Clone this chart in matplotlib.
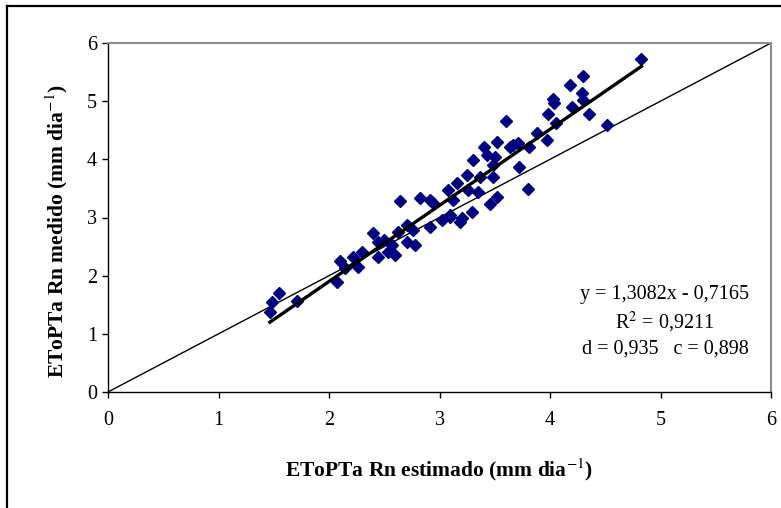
import matplotlib
matplotlib.use("Agg")
import matplotlib.pyplot as plt
from matplotlib.lines import Line2D
import numpy as np

plt.rcParams['font.family'] = ['Liberation Serif', 'DejaVu Serif']
plt.rcParams['mathtext.fontset'] = 'stix'

# ETo estimated vs measured (mm/day)
estimado = [1.465, 1.483, 1.546, 1.709, 2.071, 2.098, 2.143, 2.215, 2.260, 2.297,
            2.396, 2.441, 2.441, 2.532, 2.568, 2.622, 2.640, 2.703, 2.703, 2.776,
            2.758, 2.821, 2.911, 2.939, 2.911, 3.020, 3.092, 3.074, 3.156, 3.183,
            4.828, 4.295, 4.177, 4.286, 4.295, 4.024, 4.033, 4.195, 4.349, 3.978,
            4.051, 4.512, 3.599, 3.879, 3.969, 3.707, 3.662, 3.635, 3.807, 3.517,
            3.400, 3.427, 3.300, 3.499, 3.481, 3.716, 3.481, 3.363, 3.246, 3.255,
            3.345, 3.797, 3.517, 3.454, 3.119, 3.291, 3.092, 3.201, 2.595, 2.495]
medido = [1.375, 1.546, 1.701, 1.564, 1.890, 2.251, 2.131, 2.320, 2.148, 2.405,
          2.732, 2.577, 2.320, 2.405, 2.526, 2.749, 3.282, 2.869, 2.577, 2.526,
          2.784, 3.333, 3.299, 3.247, 2.835, 2.955, 3.007, 3.471, 3.591, 2.921,
          5.722, 5.430, 5.275, 5.137, 5.017, 5.034, 4.966, 4.897, 4.777, 4.777,
          4.622, 4.588, 4.656, 4.450, 4.330, 4.278, 4.244, 4.210, 4.210, 4.296,
          4.210, 4.072, 3.986, 4.038, 3.900, 3.866, 3.694, 3.694, 3.729, 3.471,
          3.436, 3.488, 3.351, 3.230, 3.299, 3.093, 3.041, 2.990, 2.354, 2.612]

slope = 1.3082
intercept = -0.7165
stats_lines = ["y = 1,3082x - 0,7165", "R$^2$ = 0,9211", "d = 0,935   c = 0,898"]

fig = plt.figure(figsize=(7.81, 5.08), dpi=100)
ax = fig.add_axes([108 / 781, 116 / 508, 663 / 781, 349 / 508])

# 1:1 line
ax.plot([0, 6], [0, 6], color='black', linewidth=1.0, zorder=2)

ax.plot(estimado, medido, linestyle='none', marker='D', markersize=6,
        color='#000080', zorder=3)

# fitted line over the range of the data
xs = np.array([min(estimado), max(estimado)])
ax.plot(xs, slope * xs + intercept, color='black', linewidth=2.4, zorder=4)

ax.set_xlim(0, 6)
ax.set_ylim(0, 6)
ax.set_xticks(range(7))
ax.set_yticks(range(7))
ax.tick_params(direction='out', length=4, width=1, labelsize=14.5, colors='black')
ax.tick_params(axis='x', pad=10)
ax.tick_params(axis='y', pad=4)

for side in ['left', 'bottom']:
    ax.spines[side].set_color('black')
    ax.spines[side].set_linewidth(1.0)
for side in ['top', 'right']:
    ax.spines[side].set_color('#8c8c8c')
    ax.spines[side].set_linewidth(1.5)

ax.set_xlabel("EToPTa Rn estimado (mm dia$^{-1}$)", fontsize=15.5,
              fontweight='bold', labelpad=19)
ax.set_ylabel("EToPTa Rn medido (mm dia$^{-1}$)", fontsize=15.5,
              fontweight='bold')
ax.yaxis.set_label_coords(-0.058, 0.46)

for i, txt in enumerate(stats_lines):
    ax.text(5.04, 1.67 - i * 0.47, txt, fontsize=14.5, ha='center', va='center')

# chart frame
fig.add_artist(Line2D([7 / 781, 7 / 781], [0, 1 - 6 / 508], color='black',
                      linewidth=1.6, transform=fig.transFigure))
fig.add_artist(Line2D([7 / 781, 1], [1 - 6 / 508, 1 - 6 / 508], color='black',
                      linewidth=1.6, transform=fig.transFigure))

fig.savefig("out.png", dpi=100)
